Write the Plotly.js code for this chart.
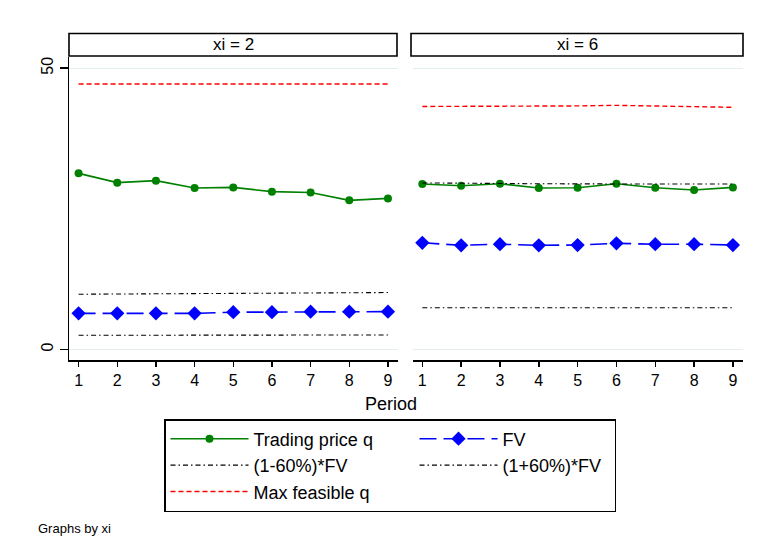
<!DOCTYPE html>
<html>
<head>
<meta charset="utf-8">
<script src="https://cdn.plot.ly/plotly-3.0.1.min.js"></script>
<style>html,body{margin:0;padding:0;background:#fff}#chart{width:758px;height:549px}</style>
</head>
<body>
<div id="chart"></div>
<script>
// ---- data ----
const periods = [1, 2, 3, 4, 5, 6, 7, 8, 9];
const panelLabels = ['xi = 2', 'xi = 6'];
const seriesNames = ['Trading price q', 'FV', '(1-60%)*FV', '(1+60%)*FV', 'Max feasible q'];

// panel xi = 2
const trade_xi2 = [31.3, 29.65, 30.0, 28.7, 28.8, 28.05, 27.9, 26.5, 26.85];
const fv_xi2    = [6.4, 6.4, 6.4, 6.4, 6.6, 6.6, 6.7, 6.7, 6.7];
const low_xi2   = [2.5, 2.5, 2.5, 2.5, 2.55, 2.55, 2.55, 2.55, 2.55];
const up_xi2    = [9.8, 9.85, 9.9, 9.95, 10.0, 10.0, 10.05, 10.1, 10.1];
const max_xi2   = [47.2, 47.2, 47.2, 47.2, 47.2, 47.2, 47.2, 47.2, 47.2];

// panel xi = 6
const trade_xi6 = [29.4, 29.1, 29.45, 28.7, 28.75, 29.45, 28.75, 28.35, 28.8];
const fv_xi6    = [18.95, 18.5, 18.7, 18.5, 18.55, 18.85, 18.7, 18.7, 18.55];
const low_xi6   = [7.4, 7.4, 7.4, 7.4, 7.4, 7.4, 7.4, 7.4, 7.4];
const up_xi6    = [29.6, 29.5, 29.5, 29.45, 29.4, 29.4, 29.4, 29.4, 29.4];
const max_xi6   = [43.2, 43.2, 43.3, 43.3, 43.3, 43.4, 43.3, 43.2, 43.05];

const yTicks = [0, 50];
const xTitle = 'Period';
const note = 'Graphs by xi';

// ---- styles ----
const FONT = 'Liberation Sans, Arial, Helvetica, sans-serif';
const styles = [
  {mode: 'lines+markers', line: {color: 'rgb(0,128,0)', width: 1.6}, marker: {symbol: 'circle', size: 8, color: 'rgb(0,128,0)'}},
  {mode: 'lines+markers', line: {color: 'rgb(0,0,255)', width: 1.6, dash: '17px,7px'}, marker: {symbol: 'diamond', size: 11, color: 'rgb(0,0,255)'}},
  {mode: 'lines', line: {color: 'black', width: 1.1, dash: '5px,3px,1.5px,3px'}},
  {mode: 'lines', line: {color: 'black', width: 1.1, dash: '5px,3px,1.5px,3px'}},
  {mode: 'lines', line: {color: 'rgb(255,0,0)', width: 1.4, dash: '5px,3px'}}
];
// legend entry widths: left column / right column
const legendWidths = [156, 107, 156, 107, 156];

const panels = [
  {xa: 'x', ya: 'y', data: [trade_xi2, fv_xi2, low_xi2, up_xi2, max_xi2], legend: true},
  {xa: 'x2', ya: 'y2', data: [trade_xi6, fv_xi6, low_xi6, up_xi6, max_xi6], legend: false}
];

const traces = [];
panels.forEach(p => {
  p.data.forEach((vals, i) => {
    traces.push(Object.assign({
      type: 'scatter', x: periods, y: vals, xaxis: p.xa, yaxis: p.ya,
      name: seriesNames[i], showlegend: p.legend, legendwidth: legendWidths[i], hoverinfo: 'skip'
    }, JSON.parse(JSON.stringify(styles[i]))));
  });
});

const W = 758, H = 549, ML = 20, MR = 15;
const px = v => (v - ML) / (W - ML - MR), py = v => 1 - v / H;

const xCommon = {
  range: [0.76, 9.26], tickvals: periods, ticktext: periods.map(String),
  ticks: 'outside', ticklen: 5, tickwidth: 1.5, tickcolor: 'black',
  showline: true, linecolor: 'black', linewidth: 1.5, showgrid: false, zeroline: false,
  tickfont: {family: FONT, size: 16, color: 'black'}, fixedrange: true, automargin: false
};
const yCommon = {
  range: [-1.9, 52.0], tickvals: yTicks, ticktext: yTicks.map(String),
  showgrid: true, gridcolor: '#e4eef0', gridwidth: 1.2, zeroline: false,
  domain: [py(360), py(57)], fixedrange: true, automargin: false
};

const layout = {
  width: W, height: H,
  margin: {l: ML, r: MR, t: 0, b: 0},
  paper_bgcolor: 'white', plot_bgcolor: 'white',
  font: {family: FONT, color: 'black'},
  xaxis: Object.assign({}, xCommon, {domain: [px(69.3), px(398)], anchor: 'y'}),
  xaxis2: Object.assign({}, xCommon, {domain: [px(413), px(743)], anchor: 'y2'}),
  yaxis: Object.assign({}, yCommon, {
    anchor: 'x', ticks: 'outside', ticklen: 8, tickwidth: 1.5, tickcolor: 'black',
    showline: true, linecolor: 'black', linewidth: 1.5, tickangle: -90,
    tickfont: {family: FONT, size: 16, color: 'black'}
  }),
  yaxis2: Object.assign({}, yCommon, {anchor: 'x2', matches: 'y', showticklabels: false, ticks: '', showline: false}),
  shapes: [
    {type: 'rect', xref: 'paper', yref: 'paper', x0: px(69), x1: px(397), y0: py(56), y1: py(33.5),
     line: {color: 'black', width: 1.6}, fillcolor: 'white'},
    {type: 'rect', xref: 'paper', yref: 'paper', x0: px(411), x1: px(743), y0: py(56), y1: py(33.5),
     line: {color: 'black', width: 1.6}, fillcolor: 'white'}
  ],
  annotations: [
    {text: panelLabels[0], xref: 'paper', yref: 'paper', x: px(233), y: py(45), xanchor: 'center', yanchor: 'middle',
     showarrow: false, font: {family: FONT, size: 17, color: 'black'}},
    {text: panelLabels[1], xref: 'paper', yref: 'paper', x: px(577), y: py(45), xanchor: 'center', yanchor: 'middle',
     showarrow: false, font: {family: FONT, size: 17, color: 'black'}},
    {text: xTitle, xref: 'paper', yref: 'paper', x: px(391), y: py(404), xanchor: 'center', yanchor: 'middle',
     showarrow: false, font: {family: FONT, size: 18, color: 'black'}},
    {text: note, xref: 'paper', yref: 'paper', x: px(36), y: py(528), xanchor: 'left', yanchor: 'middle',
     showarrow: false, font: {family: FONT, size: 13, color: 'black'}}
  ],
  legend: {
    orientation: 'h', x: px(164), y: py(419), xanchor: 'left', yanchor: 'top',
    bordercolor: 'black', borderwidth: 1.5, bgcolor: 'white',
    itemwidth: 78, entrywidthmode: 'pixels',
    font: {family: FONT, size: 18, color: 'black'}, traceorder: 'normal',
    itemsizing: 'trace', itemclick: false, itemdoubleclick: false
  },
  showlegend: true
};

Plotly.newPlot('chart', traces, layout, {displayModeBar: false, staticPlot: true});
</script>
</body>
</html>
